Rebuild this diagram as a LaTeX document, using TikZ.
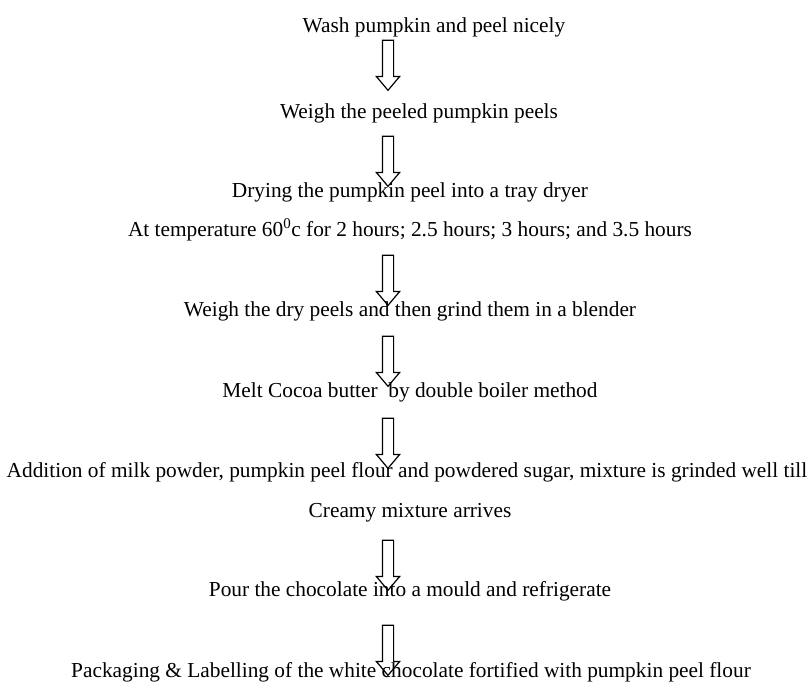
\documentclass[tikz,border=0pt]{standalone}
\usepackage{fontspec}
\setmainfont{Liberation Serif}
\usetikzlibrary{shapes.arrows}

\begin{document}
\begin{tikzpicture}[x=0.75pt, y=-0.75pt]
    \tikzstyle{stepnode} = [inner sep=0pt, anchor=base, font=\fontsize{16}{19}\selectfont]
    \tikzstyle{downarrow} = [single arrow, draw, line width=0.9pt, rotate=270,
        minimum height=37.5pt, minimum width=0pt, inner xsep=0pt, inner ysep=3.75pt,
        single arrow head extend=4.5pt, single arrow head indent=0pt,
        single arrow tip angle=80]

    \useasboundingbox (0,0) rectangle (811,688);

    % Steps
    \node[stepnode] (s1) at (434,33) {Wash pumpkin and peel nicely};
    \node[stepnode] (s2) at (419,119) {Weigh the peeled pumpkin peels};
    \node[stepnode] (s3) at (410,198) {Drying the pumpkin peel into a tray dryer};
    \node[stepnode] (s3b) at (410,237) {At temperature 60\textsuperscript{0}c for 2 hours; 2.5 hours; 3 hours; and 3.5 hours};
    \node[stepnode] (s4) at (410,316) {Weigh the dry peels and then grind them in a blender};
    \node[stepnode] (s5) at (410,397) {Melt Cocoa butter\ \ by double boiler method};
    \node[stepnode] (s6) at (407,477) {Addition of milk powder, pumpkin peel flour and powdered sugar, mixture is grinded well till};
    \node[stepnode] (s6b) at (410,517) {Creamy mixture arrives};
    \node[stepnode] (s7) at (410,596) {Pour the chocolate into a mould and refrigerate};
    \node[stepnode] (s8) at (411,677) {Packaging \& Labelling of the white chocolate fortified with pumpkin peel flour};

    % Arrows
    \foreach \n/\y in {1/62, 2/158, 3/277, 4/358, 5/440, 6/562, 7/647} {
        \node[downarrow] (a\n) at (388,\y) {};
    }

\end{tikzpicture}
\end{document}
